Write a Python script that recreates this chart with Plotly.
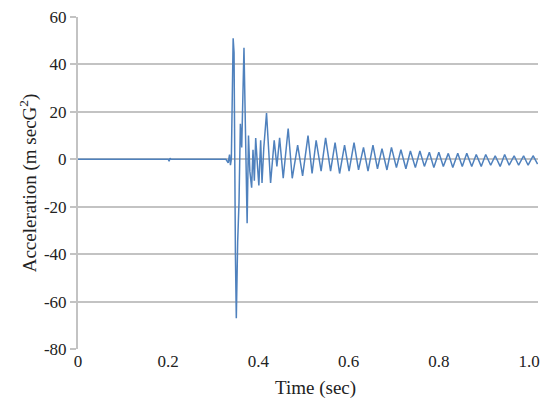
import plotly.graph_objects as go

# Impact acceleration trace: quiet baseline, impact near 0.34 s, then decaying ring-down
time_s = [
    0.000, 0.200, 0.202, 0.204, 0.206, 0.328, 0.333, 0.336, 0.338, 0.340,
    0.344, 0.346, 0.349, 0.351, 0.354, 0.357, 0.360, 0.363, 0.368, 0.372,
    0.375, 0.378, 0.381, 0.385, 0.388, 0.391, 0.394, 0.398, 0.401, 0.405,
    0.408, 0.412, 0.418, 0.427, 0.435, 0.441, 0.447, 0.455, 0.466, 0.475,
    0.487, 0.498, 0.510, 0.519, 0.528, 0.539, 0.549, 0.560, 0.570, 0.580,
    0.591, 0.601, 0.612, 0.622, 0.633, 0.643, 0.654, 0.664, 0.674, 0.685,
    0.695, 0.706, 0.716, 0.727, 0.737, 0.748, 0.758, 0.768, 0.779, 0.789,
    0.800, 0.810, 0.821, 0.831, 0.842, 0.852, 0.862, 0.873, 0.883, 0.894,
    0.904, 0.915, 0.925, 0.936, 0.946, 0.956, 0.967, 0.977, 0.988, 0.998,
    1.009, 1.019,
]
accel = [
    0.0, 0.0, -0.8, 0.5, 0.0, 0.0, -1.5, 2.0, -2.5, 0.0,
    51.0, 45.0, -40.0, -67.0, -35.0, -18.0, 15.0, 5.0, 47.0, 0.0,
    -27.0, 10.0, -5.0, -12.0, 4.0, -9.0, 9.0, -3.0, -11.0, 8.0,
    -10.0, 5.0, 19.5, -10.0, 8.0, -3.0, 9.0, -8.0, 13.0, -8.0,
    6.0, -7.0, 10.0, -6.0, 8.0, -5.0, 9.0, -5.0, 7.0, -6.0,
    6.0, -5.0, 7.0, -4.5, 5.0, -5.0, 6.0, -4.0, 4.5, -4.5,
    5.0, -3.5, 4.0, -4.0, 3.5, -3.5, 3.5, -3.0, 3.0, -3.5,
    3.0, -3.0, 2.5, -3.5, 2.5, -3.0, 2.5, -3.0, 2.0, -3.0,
    2.0, -2.5, 1.5, -3.0, 2.0, -2.5, 1.5, -2.5, 1.5, -2.5,
    1.5, -2.0,
]

x_ticks = [0, 0.2, 0.4, 0.6, 0.8, 1.0]
x_tick_labels = ["0", "0.2", "0.4", "0.6", "0.8", "1.0"]
y_ticks = [-80, -60, -40, -20, 0, 20, 40, 60]
y_tick_labels = ["-80", "-60", "-40", "-20", "0", "20", "40", "60"]

serif = "Liberation Serif"
grid = "#c3c3c3"

fig = go.Figure(
    go.Scatter(
        x=time_s,
        y=accel,
        mode="lines",
        line=dict(color="#4f81bd", width=1.5),
        showlegend=False,
    )
)

fig.update_layout(
    width=548,
    height=411,
    margin=dict(l=78, r=8, t=14, b=62),
    paper_bgcolor="white",
    plot_bgcolor="white",
    font=dict(family=serif, size=17, color="#222222"),
    xaxis=dict(
        range=[0, 1.0199],
        tickvals=x_ticks,
        ticktext=x_tick_labels,
        showgrid=False,
        zeroline=False,
        showline=False,
        ticks="",
        tickfont=dict(family=serif, size=17),
        ticklabeloverflow="allow",
    ),
    yaxis=dict(
        range=[-80, 60],
        tickvals=y_ticks,
        ticktext=y_tick_labels,
        showgrid=True,
        gridcolor=grid,
        gridwidth=1.5,
        zeroline=False,
        showline=True,
        linecolor=grid,
        linewidth=2,
        ticks="outside",
        ticklen=6,
        tickwidth=1.5,
        tickcolor=grid,
        tickfont=dict(family=serif, size=17),
    ),
    annotations=[
        dict(
            text="Time (sec)",
            xref="paper", yref="paper",
            x=0.517, y=-0.117,
            xanchor="center", yanchor="middle",
            showarrow=False,
            font=dict(family=serif, size=19),
        ),
        dict(
            text="Acceleration (m secG<sup>2</sup>)",
            xref="paper", yref="paper",
            x=-0.108, y=0.5,
            xanchor="center", yanchor="middle",
            textangle=-90,
            showarrow=False,
            font=dict(family=serif, size=19),
        ),
    ],
)

fig.write_html("out.html")
